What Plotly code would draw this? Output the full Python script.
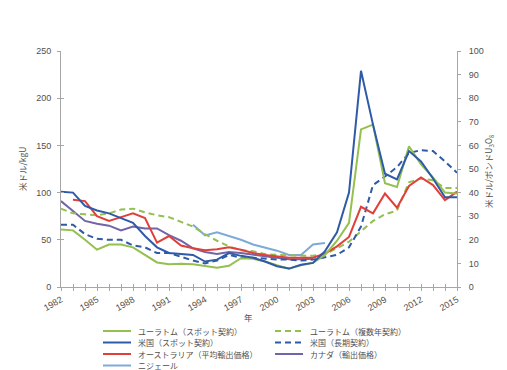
import plotly.graph_objects as go

years = list(range(1982, 2016))
tick_years = list(range(1982, 2016, 3))
tick_labels = [str(y) for y in tick_years]

euratom_spot = [61, 60, 50, 39.5, 45, 45, 42, 34, 26, 24, 24.5, 24, 22, 20.5, 22.5, 30.5, 30, 27, 23, 19.5,
                23, 25.5, 34, 49, 68, 167, 172, 110, 106, 149, 130, 116, 100, 99]
euratom_multi = [83, 78, 77, 76, 78, 82, 83, 79, 76, 74, 69, 64, 56, 49, 43, 39, 38, 35, 34, 33.5,
                 33, 33, 35, 41, 48, 59, 70, 77, 81, 111, 115, 113, 105, 105]
us_spot = [101, 100, 86, 81, 78, 73, 68, 54, 42, 36, 35, 34, 27, 29, 36, 33, 31, 27, 22, 19.5,
           23.5, 25.5, 38, 58, 100, 229, 172, 120, 114, 144, 133, 115, 95, 95]
us_long = [66, 66, 56, 51, 50, 50, 44, 42, 36, 36, 32, 28, 25, 28, 34, 31, 31, 30, 29, 29,
           28, 29, 31.5, 34, 42, 64, 108, 117, 127, 142, 145, 144, 133, 121]
australia = [None, 92.5, 91, 75, 70, 74, 78, 73, 47, 54, 44, 41, 39, 40, 42, 39.5, 36, 34, 32.5, 31,
             31, 31, 35.5, 43, 53, 85, 78, 99, 84, 107, 116, 108, 92, 101]
canada = [91, 80, 70, 67, 65, 60, 64, 62, 62, 55, 49, 41, 37, 35, 37, 36, 34, 32.5, 31, 29.5,
          29.5, 30] + [None] * 12
niger = [None] * 11 + [66, 54.7, 58, 54, 50, 45, 42, 38.5, 34, 34, 45, 46.6] + [None] * 11

names = ["ユーラトム（スポット契約）", "ユーラトム（複数年契約）", "米国（スポット契約）", "米国（長期契約）",
         "オーストラリア（平均輸出価格）", "カナダ（輸出価格）", "ニジェール"]
series = [euratom_spot, euratom_multi, us_spot, us_long, australia, canada, niger]
colors = ["#93C04F", "#93C04F", "#2F5AA8", "#2F5AA8", "#E0403A", "#7264A8", "#7DAAD9"]
dashes = ["solid", "6px,4px", "solid", "6px,4px", "solid", "solid", "solid"]

FONT = "Liberation Sans, Arial, Noto Sans CJK JP, sans-serif"
JFONT = "Noto Sans CJK JP, sans-serif"
AX = "#A6A6A6"
TXT = "#505050"

fig = go.Figure()
draw_order = [6, 5, 1, 3, 4, 0, 2]
for i in draw_order:
    fig.add_trace(go.Scatter(x=years, y=series[i], mode="lines", name=names[i],
                             line=dict(color=colors[i], width=2, dash=dashes[i]),
                             connectgaps=False, showlegend=False))
# empty traces so overlay axes are drawn
fig.add_trace(go.Scatter(x=[None], y=[None], xaxis="x2", yaxis="y2", showlegend=False, hoverinfo="skip"))
fig.add_trace(go.Scatter(x=[None], y=[None], xaxis="x2", yaxis="y3", showlegend=False, hoverinfo="skip"))

L, R, T, B = 53, 58, 43, 91
W, H = 507, 370
pw, ph = W - L - R, H - T - B

fig.update_layout(
    width=W, height=H, margin=dict(l=L, r=R, t=T, b=B),
    paper_bgcolor="white", plot_bgcolor="white",
    font=dict(family=FONT, size=9, color=TXT),
    xaxis=dict(range=[1982, 2015], tickmode="array", tickvals=tick_years, ticktext=tick_labels,
               tickangle=-30, ticks="outside", ticklen=3, tickcolor=AX, showline=True, linecolor=AX,
               minor=dict(dtick=1, tick0=1982, ticks="outside", ticklen=3, tickcolor=AX),
               linewidth=1, showgrid=False, zeroline=False, tickfont=dict(size=9, color=TXT)),
    xaxis2=dict(range=[1982, 2015], overlaying="x", anchor="y", tickmode="linear", tick0=1982, dtick=1,
                ticks="inside", ticklen=3, tickcolor=AX, showticklabels=False, showline=False,
                showgrid=False, zeroline=False),
    yaxis=dict(range=[0, 250], tickvals=[0, 50, 100, 150, 200, 250], ticks="outside", ticklen=3,
               tickcolor=AX, showline=True, linecolor=AX, showgrid=False, zeroline=False,
               tickfont=dict(size=9, color=TXT), ticklabelstandoff=4),
    yaxis2=dict(range=[0, 250], overlaying="y", anchor="x2", tickvals=[0, 50, 100, 150, 200, 250],
                ticks="inside", ticklen=3, tickcolor=AX, showticklabels=False, showline=False,
                showgrid=False, zeroline=False),
    yaxis3=dict(range=[0, 100], overlaying="y", side="right", anchor="x2", dtick=10, ticks="outside",
                ticklen=3, tickcolor=AX, showline=True, linecolor=AX, showgrid=False, zeroline=False,
                tickfont=dict(size=9, color=TXT), ticklabelstandoff=6),
)

annotations = [
    dict(text="米ドル/kgU", x=14, y=161, textangle=-90),
    dict(text="米ドル/ポンドU<sub>3</sub>O<sub>8</sub>", x=481, y=163, textangle=-90),
    dict(text="年", x=240, y=309),
]
ann = []
for a in annotations:
    ann.append(dict(text=a["text"], xref="paper", yref="paper",
                    x=(a["x"] - L) / pw, y=(H - B - a["y"]) / ph, xanchor="center", yanchor="middle",
                    textangle=a.get("textangle", 0), showarrow=False,
                    font=dict(family=JFONT, size=8.5, color=TXT)))

# manual legend (two columns)
legend_pos = [(95, 323), (267, 323), (95, 334.5), (267, 334.5), (95, 346), (267, 346), (95, 357.5)]
shapes = []
for i, (lx, ly) in enumerate(legend_pos):
    yp = (H - B - ly) / ph
    shapes.append(dict(type="line", xref="paper", yref="paper",
                       x0=(lx - L) / pw, x1=(lx + 28 - L) / pw, y0=yp, y1=yp,
                       line=dict(color=colors[i], width=2, dash=dashes[i])))
    ann.append(dict(text=names[i], xref="paper", yref="paper", x=(lx + 33 - L) / pw, y=yp,
                    xanchor="left", yanchor="middle", showarrow=False,
                    font=dict(family=JFONT, size=8, color=TXT)))

fig.update_layout(annotations=ann, shapes=shapes)
fig.write_html("out.html")
